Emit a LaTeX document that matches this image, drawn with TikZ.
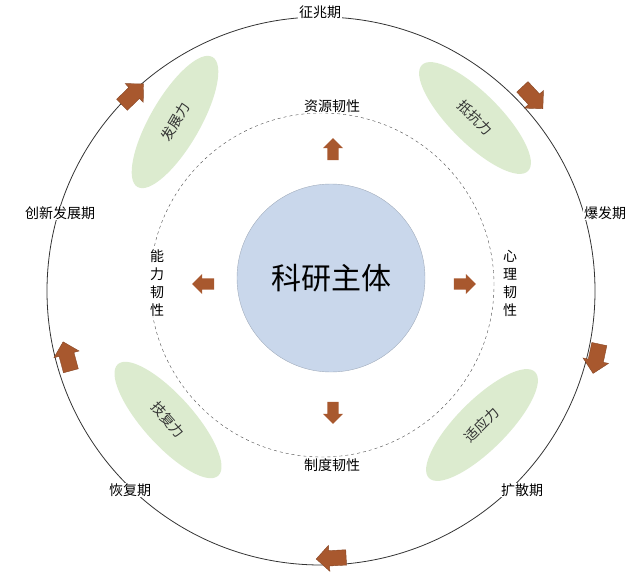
\documentclass[tikz,border=0pt]{standalone}
\usepackage{fontspec}
\setmainfont{Noto Sans CJK SC}
\usetikzlibrary{shapes.arrows,shapes.geometric}
\definecolor{arr}{HTML}{A8582E}
\definecolor{grn}{HTML}{DCEBCF}
\definecolor{blu}{HTML}{C9D7EB}
\begin{document}
\begin{tikzpicture}[x=1pt,y=-1pt,
 lab/.style={font=\fontsize{14}{15}\selectfont,fill=white,inner sep=1pt},
 ell/.style={ellipse,fill=grn,minimum width=150pt,minimum height=50pt,font=\fontsize{14}{15}\selectfont,text=black!80},
 bigarr/.style={single arrow,fill=arr,draw=arr!80!black,minimum width=26pt,single arrow head extend=5pt,minimum height=30pt,inner xsep=2pt,inner ysep=7pt},
 smarr/.style={single arrow,fill=arr,minimum width=20pt,single arrow head extend=4pt,minimum height=22pt,inner xsep=1pt,inner ysep=5pt}]
\useasboundingbox (0,0) rectangle (640,578);
\node[draw=black!80,circle,minimum size=548pt,line width=0.8pt] (outer) at (321,291) {};
\node[draw=black!70,dashed,circle,minimum size=344pt] (inner) at (322,285) {};
\node[circle,fill=blu,draw=blu!80!black,minimum size=188pt,font=\fontsize{30}{32}\selectfont] (c) at (331,278) {科研主体};
\node[ell,rotate=-45] (e1) at (475,118) {抵抗力};
\node[ell,rotate=60] (e2) at (175,122) {发展力};
\node[ell,rotate=-48] (e3) at (168,420) {技复力};
\node[ell,rotate=45] (e4) at (482,425) {适应力};
\node[bigarr,rotate=44] (a1) at (130,97) {};
\node[bigarr,rotate=-47] (a2) at (530,95) {};
\node[bigarr,rotate=-102] (a3) at (597,355) {};
\node[bigarr,rotate=-177] (a4) at (335,558) {};
\node[bigarr,rotate=105] (a5) at (68,360) {};
\node[lab] (l1) at (320,12) {征兆期};
\node[lab] (l2) at (605,213) {爆发期};
\node[lab] (l3) at (522,490) {扩散期};
\node[lab] (l4) at (130,490) {恢复期};
\node[lab] (l5) at (60,213) {创新发展期};
\node[lab] (r1) at (332,106) {资源韧性};
\node[lab] (r2) at (332,465) {制度韧性};
\node[lab,align=center,font=\fontsize{14}{18}\selectfont] (r3) at (157,283) {能\\力\\韧\\性};
\node[lab,align=center,font=\fontsize{14}{18}\selectfont] (r4) at (510,283) {心\\理\\韧\\性};
\node[smarr,rotate=90] (s1) at (333,152) {};
\node[smarr,rotate=-90] (s2) at (333,410) {};
\node[smarr,rotate=180] (s3) at (206,284) {};
\node[smarr] (s4) at (462,284) {};
\end{tikzpicture}
\end{document}
